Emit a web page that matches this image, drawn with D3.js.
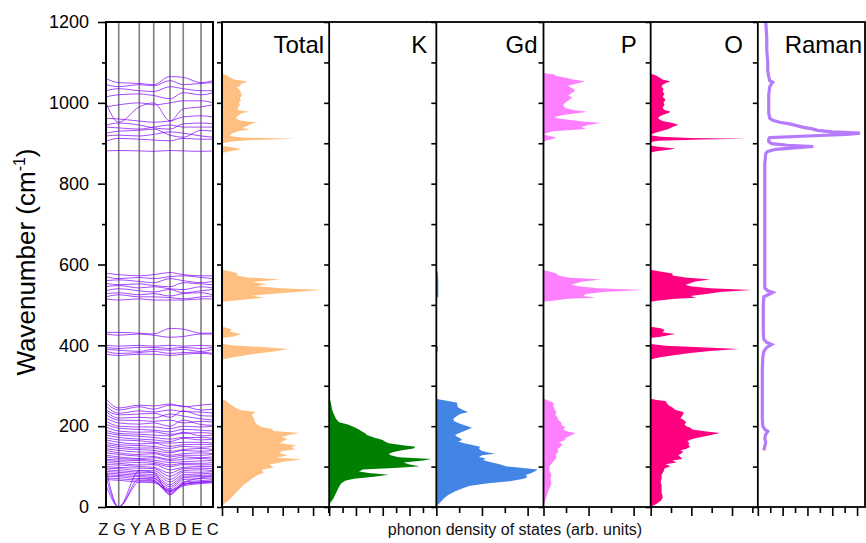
<!DOCTYPE html>
<html>
<head>
<meta charset="utf-8">
<script src="https://cdn.jsdelivr.net/npm/d3@7"></script>
<style>
  body { margin: 0; background: #fff; }
  svg { font-family: "Liberation Sans", Arial, sans-serif; }
</style>
</head>
<body>
<div id="chart"></div>
<script>
"use strict";

// high-symmetry points along the k-path and their path distance
const kLabels = ["Z", "G", "Y", "A", "B", "D", "E", "C"];
const kDist = [0, 0.119, 0.311, 0.446, 0.598, 0.722, 0.888, 1.0];

// phonon bands, frequency (cm-1) at each k point
const highBands = [
  [881, 882, 881, 880, 882, 881, 880, 881],
  [905, 912, 910, 908, 906, 912, 910, 910],
  [918, 920, 918, 922, 928, 925, 918, 915],
  [925, 930, 932, 935, 920, 915, 932, 930],
  [940, 938, 935, 940, 945, 940, 940, 940],
  [945, 950, 945, 938, 935, 948, 950, 948],
  [962, 960, 955, 952, 955, 965, 968, 965],
  [1000, 952, 990, 1000, 955, 985, 990, 995],
  [990, 995, 1000, 995, 1000, 1005, 1005, 1000],
  [1015, 1020, 1022, 1018, 1010, 1025, 1020, 1025],
  [1030, 1035, 1030, 1028, 1040, 1035, 1030, 1030],
  [1045, 1040, 1045, 1042, 1055, 1045, 1048, 1050],
  [1060, 1050, 1048, 1045, 1065, 1063, 1050, 1055]
];
const midBands = [
  [578, 575, 572, 575, 580, 575, 572, 572],
  [570, 565, 568, 565, 570, 572, 568, 565],
  [560, 562, 558, 555, 565, 560, 555, 558],
  [553, 550, 552, 548, 545, 555, 552, 550],
  [545, 548, 542, 545, 540, 538, 545, 542],
  [535, 540, 535, 532, 538, 530, 535, 538],
  [528, 530, 525, 528, 522, 528, 530, 525],
  [520, 525, 520, 520, 518, 515, 520, 522],
  [515, 512, 515, 512, 512, 512, 515, 515],
  [432, 432, 430, 428, 442, 440, 430, 430],
  [428, 425, 428, 425, 420, 422, 428, 428],
  [400, 398, 400, 398, 400, 398, 400, 398],
  [395, 392, 395, 395, 392, 395, 392, 395],
  [390, 388, 385, 390, 388, 390, 385, 390],
  [385, 380, 382, 385, 380, 382, 383, 380],
  [378, 375, 378, 378, 375, 378, 380, 378]
];
const lowBands = [
  [268, 245, 252, 250, 255, 248, 252, 255],
  [258, 240, 248, 242, 252, 250, 240, 242],
  [250, 232, 238, 235, 240, 236, 235, 232],
  [240, 228, 230, 232, 222, 238, 226, 225],
  [236, 220, 222, 220, 230, 225, 218, 215],
  [228, 215, 214, 212, 215, 208, 212, 210],
  [220, 208, 205, 208, 200, 215, 204, 202],
  [212, 200, 198, 198, 194, 200, 198, 200],
  [205, 195, 192, 190, 186, 192, 190, 188],
  [198, 188, 185, 186, 180, 182, 184, 182],
  [190, 182, 180, 178, 176, 185, 176, 178],
  [184, 178, 175, 172, 168, 172, 172, 170],
  [178, 172, 168, 166, 162, 170, 166, 168],
  [172, 166, 164, 160, 158, 160, 160, 158],
  [166, 160, 156, 158, 150, 154, 155, 155],
  [160, 154, 152, 150, 145, 150, 148, 150],
  [154, 150, 146, 146, 138, 142, 145, 142],
  [150, 145, 142, 140, 134, 140, 138, 140],
  [144, 140, 136, 135, 128, 132, 134, 132],
  [140, 134, 130, 132, 124, 128, 128, 130],
  [134, 130, 126, 125, 118, 124, 122, 124],
  [128, 124, 120, 122, 115, 118, 120, 118],
  [124, 120, 118, 116, 110, 112, 114, 115],
  [118, 116, 115, 112, 104, 108, 108, 110],
  [115, 112, 110, 108, 100, 105, 104, 105],
  [110, 108, 104, 105, 92, 98, 100, 100],
  [105, 104, 100, 98, 84, 95, 96, 95],
  [100, 98, 96, 95, 76, 90, 92, 90],
  [96, 95, 90, 90, 68, 86, 86, 88],
  [92, 90, 86, 85, 62, 80, 82, 84],
  [88, 86, 82, 80, 55, 76, 78, 80],
  [84, 82, 78, 76, 50, 72, 75, 75],
  [80, 78, 75, 72, 45, 68, 70, 72],
  [76, 75, 70, 70, 40, 62, 65, 68],
  [72, 70, 66, 65, 36, 58, 62, 64],
  [68, 66, 62, 62, 32, 56, 60, 62],
  [95, 0, 90, 85, 30, 60, 72, 78],
  [75, 0, 70, 66, 38, 52, 58, 60],
  [55, 0, 62, 60, 42, 55, 62, 64]
];

// phonon DOS, [wavenumber, arb. units]
const totalDos = [[0,0],[8,2],[15,6],[25,10],[35,14],[45,18],[55,22],[62,26],[70,30],[78,35],[85,42],[92,40],[98,52],[105,48],[112,62],[118,81],[122,55],[128,66],[133,58],[138,60],[143,74],[148,70],[153,75],[158,58],[163,62],[168,66],[173,60],[178,68],[183,78],[188,52],[193,50],[198,40],[205,35],[212,33],[220,32],[228,30],[235,34],[240,18],[248,12],[255,8],[262,4],[268,0],
  [365,0],[370,10],[378,30],[385,52],[391,67],[396,40],[400,10],[404,0],
  [418,0],[422,12],[428,19],[434,8],[440,10],[446,0],
  [508,0],[512,18],[518,42],[523,30],[528,55],[533,80],[537,102],[541,60],[546,35],[551,45],[557,30],[563,59],[568,25],[573,15],[578,16],[583,8],[587,0],
  [876,0],[880,8],[885,20],[890,10],[894,0],[900,0],[904,8],[908,30],[911,75],[914,20],[918,8],[924,10],[930,16],[934,28],[938,20],[942,25],[948,30],[952,35],[956,18],[962,14],[968,16],[974,20],[978,27],[982,16],[988,16],[995,18],[1000,17],[1006,19],[1012,18],[1018,20],[1025,19],[1032,18],[1038,15],[1042,18],[1048,20],[1053,26],[1058,12],[1063,8],[1068,4],[1074,0],[1200,0]];
const kDos = [[0,0],[10,1],[20,4],[30,6],[40,8],[50,10],[58,12],[65,16],[70,25],[75,45],[80,60],[84,40],[88,30],[93,34],[97,70],[101,91],[106,80],[110,75],[115,95],[119,103],[123,70],[128,62],[132,60],[136,65],[140,72],[145,85],[149,87],[153,74],[158,60],[162,56],[166,54],[172,45],[178,38],[183,36],[187,33],[192,30],[197,26],[201,22],[205,18],[210,10],[218,7],[228,5],[240,3],[255,2],[265,1],[270,0],
  [530,0],[537,1],[544,0],[1200,0]];
const gdDos = [[0,0],[6,2],[14,5],[22,8],[30,12],[38,18],[46,26],[52,33],[58,50],[64,74],[70,88],[74,92],[79,90],[84,96],[89,100],[93,102],[97,85],[101,70],[106,64],[111,55],[116,47],[120,50],[124,43],[128,46],[132,59],[136,50],[140,45],[145,43],[149,44],[154,35],[158,28],[162,22],[166,26],[170,24],[175,20],[179,19],[184,24],[190,30],[196,36],[201,30],[206,24],[212,18],[218,17],[224,20],[230,24],[235,32],[240,27],[246,22],[252,21],[258,21],[262,12],[266,3],[268,0],
  [382,0],[386,1.5],[396,1.5],[400,0],[515,0],[520,2],[560,2],[580,1.5],[585,0],[1200,0]];
const pDos = [[0,0],[10,1],[25,3],[37,4.5],[45,6],[58,8],[68,7],[80,8],[90,6],[101,6],[110,9],[118,12],[123,13],[130,12],[136,15],[142,14],[149,17],[155,19],[160,16],[166,22],[170,22],[175,26],[180,30],[183,32],[187,24],[192,20],[197,22],[203,18],[209,18],[215,15],[222,14],[229,12],[235,13],[242,11],[250,10],[258,10],[264,4],[268,0],
  [390,0],[394,1],[397,0],[428,0],[432,1],[435,0],
  [508,0],[511,11],[515,25],[518,53],[522,40],[527,43],[532,60],[537,101],[541,55],[546,35],[550,28],[553,32],[558,40],[563,58],[568,25],[573,15],[578,13],[583,5],[586,0],
  [903,0],[907,3],[910,8],[914,13],[918,6],[922,0],[926,4],[930,10],[935,43],[940,38],[945,45],[950,58],[954,40],[958,25],[962,14],[965,11],[970,20],[975,36],[978,44],[982,30],[987,22],[992,20],[996,20],[1000,22],[1006,25],[1013,29],[1018,25],[1024,28],[1030,32],[1035,30],[1040,26],[1043,25],[1048,34],[1053,42],[1058,30],[1063,20],[1067,12],[1070,11],[1074,0],[1200,0]];
const oDos = [[0,0],[8,6],[15,10],[22,12],[28,12],[35,11],[45,11],[54,11],[62,10],[70,11],[80,11],[88,13],[95,14],[101,20],[106,15],[110,26],[115,22],[119,32],[124,30],[128,28],[133,31],[137,33],[140,30],[144,36],[149,40],[153,38],[158,39],[162,37],[166,39],[170,45],[175,55],[179,62],[183,70],[187,56],[192,42],[196,40],[200,36],[205,34],[209,36],[214,34],[220,30],[226,32],[232,33],[235,33],[240,25],[246,22],[252,18],[258,16],[262,15],[265,6],[268,0],
  [365,0],[370,8],[376,25],[381,40],[386,60],[391,89],[395,50],[399,15],[403,0],
  [418,0],[421,10],[425,18],[428,25],[432,12],[438,14],[442,10],[446,0],
  [508,0],[511,8],[515,25],[518,46],[522,40],[527,56],[532,70],[537,102],[541,60],[546,40],[550,35],[553,39],[558,45],[563,60],[568,35],[573,22],[578,22],[583,8],[587,0],
  [877,0],[880,6],[884,18],[887,25],[891,10],[894,0],[903,0],[906,8],[909,50],[911,97],[913,40],[916,10],[920,0],[925,3],[930,10],[935,18],[940,22],[946,28],[950,22],[955,12],[960,8],[965,8],[970,12],[975,18],[978,20],[982,14],[988,12],[995,14],[1000,13],[1008,15],[1015,12],[1022,14],[1028,12],[1034,13],[1040,11],[1045,12],[1050,16],[1053,20],[1058,12],[1064,8],[1068,5],[1072,0],[1200,0]];

// Raman spectrum, [wavenumber, intensity]
const ramanSpec = [[140,6],[150,7],[160,8],[170,7],[180,8],[187,10],[192,7],[200,5],[220,4.5],[260,4.5],[300,4.5],[340,4.5],[370,5],[385,6],[395,9],[402,14],[407,9],[415,6],[430,5.5],[460,5.5],[500,5.5],[520,6],[527,12],[531,15],[535,10],[542,7],[560,7],[600,7],[650,7],[700,7],[750,7],[800,7],[850,7],[875,8],[880,10],[885,18],[889,40],[892,56],[895,30],[899,14],[904,11],[910,11],[914,12],[918,50],[922,90],[925,103],[928,75],[932,60],[935,56],[940,45],[948,32],[952,22],[957,15],[962,12],[975,11],[1000,11],[1020,11],[1040,12],[1048,14],[1051,15],[1055,12],[1065,11],[1080,10],[1100,10],[1130,9],[1160,9],[1200,8]];

// panel names and the series behind them
const panelNames = ["Total", "K", "Gd", "P", "O", "Raman"];
const panelSeries = [totalDos, kDos, gdDos, pDos, oDos, ramanSpec];
const panelColors = ["#ffbf80", "#008000", "#4285e4", "#ff80ff", "#ff0080", "#b57bfb"];
const panelTickStep = [15.3, 13.5, 23, 22.7, 20.5, 12.5];
const yTicks = d3.range(0, 1201, 200);

const size = { width: 866, height: 543 };
const frame = { top: 22, bottom: 507, bandLeft: 106, bandRight: 213, dosLeft: 222, dosRight: 865 };

let svg = d3.select("#chart").append("svg")
  .attr("width", size.width)
  .attr("height", size.height);

const y = d3.scaleLinear().domain([0, 1200]).range([frame.bottom, frame.top]);

drawBands(svg);
drawDosPanels(svg);
drawLabels(svg);

/**
 * Draws the dispersion panel with its left axis
 *
 * @param svg   The svg element to draw in.
 */
function drawBands(svg) {
  const kx = d3.scaleLinear().domain([0, 1]).range([frame.bandLeft, frame.bandRight]);

  svg.append("clipPath").attr("id", "bandClip")
    .append("rect")
    .attr("x", frame.bandLeft).attr("y", frame.top)
    .attr("width", frame.bandRight - frame.bandLeft)
    .attr("height", frame.bottom - frame.top);

  // k point separators
  svg.append("g").selectAll("line")
    .data(kDist.slice(1, -1))
    .enter().append("line")
    .attr("x1", d => kx(d)).attr("x2", d => kx(d))
    .attr("y1", frame.top).attr("y2", frame.bottom)
    .attr("stroke", "#808080").attr("stroke-width", 1.6);

  const line = d3.line()
    .x((_, i) => kx(kDist[i]))
    .y(d => y(d))
    .curve(d3.curveMonotoneX);

  svg.append("g").attr("clip-path", "url(#bandClip)")
    .selectAll("path")
    .data(highBands.concat(midBands, lowBands))
    .enter().append("path")
    .attr("d", line)
    .attr("fill", "none")
    .attr("stroke", "#8000ff")
    .attr("stroke-opacity", 0.7)
    .attr("stroke-width", 1);

  // frame
  svg.append("rect")
    .attr("x", frame.bandLeft).attr("y", frame.top)
    .attr("width", frame.bandRight - frame.bandLeft)
    .attr("height", frame.bottom - frame.top)
    .attr("fill", "none").attr("stroke", "#000").attr("stroke-width", 2);

  // main axis with labels
  let axis = svg.append("g")
    .attr("transform", `translate(${frame.bandLeft},0)`)
    .call(d3.axisLeft(y).tickValues(yTicks).tickSize(8).tickPadding(9).tickSizeOuter(0).tickFormat(d3.format("d")));
  axis.select(".domain").remove();
  axis.selectAll("line").attr("stroke-width", 1.6);
  axis.selectAll("text").attr("font-size", 18).attr("font-family", "Liberation Sans, Arial, sans-serif").attr("fill", "#000");

  let minor = svg.append("g")
    .attr("transform", `translate(${frame.bandLeft},0)`)
    .call(d3.axisLeft(y).tickValues(d3.range(100, 1200, 200)).tickSize(4).tickFormat(""));
  minor.select(".domain").remove();
  minor.selectAll("line").attr("stroke-width", 1.6);
}

/**
 * Draws the six density / Raman panels side by side
 *
 * @param svg   The svg element to draw in.
 */
function drawDosPanels(svg) {
  const band = d3.scaleBand().domain(panelNames).range([frame.dosLeft, frame.dosRight]);
  const labelPad = [5, 9, 6, 14, 15, 3];

  panelNames.forEach((name, i) => {
    const x0 = band(name);
    const x = d3.scaleLinear().domain([0, 108]).range([x0, x0 + band.bandwidth()]);
    const series = panelSeries[i];

    if (name === "Raman") {
      svg.append("path")
        .datum(series)
        .attr("d", d3.line().x(d => x(d[1])).y(d => y(d[0])))
        .attr("fill", "none")
        .attr("stroke", panelColors[i])
        .attr("stroke-width", 3.2);
    } else {
      svg.append("path")
        .datum(series)
        .attr("d", d3.area().y(d => y(d[0])).x0(x(0)).x1(d => x(d[1])))
        .attr("fill", panelColors[i]);
    }

    // left ticks of each panel
    let ya = svg.append("g")
      .attr("transform", `translate(${x0},0)`)
      .call(d3.axisLeft(y).tickValues(d3.range(0, 1201, 100)).tickSize(5).tickFormat(""));
    ya.select(".domain").remove();
    ya.selectAll("line").attr("stroke-width", 1.6);

    // bottom ticks, major and minor
    const ticks = d3.range(0, 108, panelTickStep[i]);
    let major = svg.append("g")
      .attr("transform", `translate(0,${frame.bottom})`)
      .call(d3.axisBottom(x).tickValues(ticks.filter((_, j) => j % 2 === 0)).tickSize(9).tickFormat(""));
    major.select(".domain").remove();
    major.selectAll("line").attr("stroke-width", 1.6);
    let minorB = svg.append("g")
      .attr("transform", `translate(0,${frame.bottom})`)
      .call(d3.axisBottom(x).tickValues(ticks.filter((_, j) => j % 2 === 1)).tickSize(6).tickFormat(""));
    minorB.select(".domain").remove();
    minorB.selectAll("line").attr("stroke-width", 1.6);

    // separator line
    svg.append("line")
      .attr("x1", x0).attr("x2", x0)
      .attr("y1", frame.top).attr("y2", frame.bottom)
      .attr("stroke", "#000").attr("stroke-width", 1.8);

    svg.append("text")
      .attr("x", x0 + band.bandwidth() - labelPad[i])
      .attr("y", 53)
      .attr("text-anchor", "end")
      .attr("font-size", 24)
      .attr("fill", "#000")
      .text(name);
  });

  svg.append("rect")
    .attr("x", frame.dosLeft).attr("y", frame.top)
    .attr("width", frame.dosRight - frame.dosLeft)
    .attr("height", frame.bottom - frame.top)
    .attr("fill", "none").attr("stroke", "#000").attr("stroke-width", 1.8);
}

/**
 * Adds axis titles and k-path labels
 *
 * @param svg   The svg element to draw in.
 */
function drawLabels(svg) {
  let title = svg.append("text")
    .attr("transform", "translate(35,262) rotate(-90)")
    .attr("text-anchor", "middle")
    .attr("font-size", 26)
    .attr("fill", "#000");
  title.append("tspan").text("Wavenumber (cm");
  title.append("tspan").attr("font-size", 16).attr("dy", -10).text("-1");
  title.append("tspan").attr("dy", 10).text(")");

  svg.append("text")
    .attr("x", (frame.bandLeft + frame.bandRight) / 2 - 1)
    .attr("y", 535)
    .attr("text-anchor", "middle")
    .attr("font-size", 16.5)
    .attr("fill", "#111")
    .text(kLabels.join(" "));

  svg.append("text")
    .attr("x", 515)
    .attr("y", 535)
    .attr("text-anchor", "middle")
    .attr("font-size", 16)
    .attr("fill", "#111")
    .text("phonon density of states (arb. units)");
}
</script>
</body>
</html>
